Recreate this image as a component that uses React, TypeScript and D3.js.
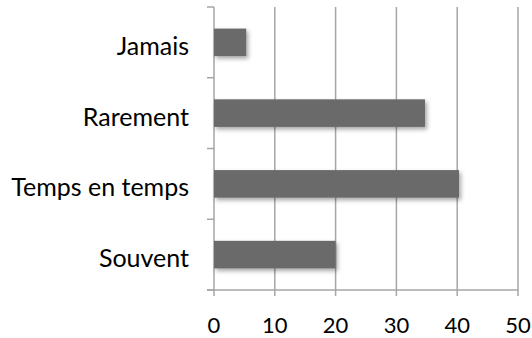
import React from "react";
import * as d3 from "d3";

const categories = ["Jamais", "Rarement", "Temps en temps", "Souvent"];
const values = [5.3, 34.7, 40.3, 20];
const xTicks = [0, 10, 20, 30, 40, 50];

const W = 532;
const H = 338;
const margin = { left: 214, right: 14, top: 7, bottom: 48 };

export default function App() {
  const x = d3.scaleLinear().domain([0, 50]).range([margin.left, W - margin.right]);
  const y = d3
    .scaleBand<string>()
    .domain(categories)
    .range([margin.top, H - margin.bottom])
    .paddingInner(0.61)
    .paddingOuter(0.305);
  const step = y.step();
  const bounds = d3.range(categories.length + 1).map((i) => margin.top + i * step);
  const axisY = H - margin.bottom;
  const font = "Lato, 'Open Sans', sans-serif";

  return (
    <svg width={W} height={H} style={{ position: "absolute", left: 0, top: 0 }}>
      <defs>
        <filter id="barShadow" x="-10%" y="-30%" width="130%" height="180%">
          <feDropShadow dx="2" dy="2.5" stdDeviation="2" floodColor="#000" floodOpacity="0.35" />
        </filter>
      </defs>
      <rect width={W} height={H} fill="#fff" />
      {xTicks.map((t) => (
        <line
          key={"g" + t}
          x1={x(t)}
          x2={x(t)}
          y1={margin.top}
          y2={axisY + 6}
          stroke="#a6a6a6"
          strokeWidth={1.5}
        />
      ))}
      <line x1={margin.left - 7} x2={x(50)} y1={axisY} y2={axisY} stroke="#a6a6a6" strokeWidth={1.5} />
      {bounds.map((b, i) => (
        <line
          key={"t" + i}
          x1={margin.left - 7}
          x2={margin.left}
          y1={b}
          y2={b}
          stroke="#a6a6a6"
          strokeWidth={1.5}
        />
      ))}
      {categories.map((c, i) => (
        <rect
          key={c}
          x={x(0)}
          y={y(c)}
          width={x(values[i]) - x(0)}
          height={y.bandwidth()}
          fill="#6b6b6b"
          filter="url(#barShadow)"
        />
      ))}
      {categories.map((c) => (
        <text
          key={"l" + c}
          x={189}
          y={(y(c) ?? 0) + y.bandwidth() / 2 + 12.5}
          textAnchor="end"
          fontFamily={font}
          fontSize={25}
          fill="#000"
        >
          {c}
        </text>
      ))}
      {xTicks.map((t) => (
        <text
          key={"x" + t}
          x={x(t)}
          y={333}
          textAnchor="middle"
          fontFamily={font}
          fontSize={22}
          fill="#000"
        >
          {t}
        </text>
      ))}
    </svg>
  );
}
